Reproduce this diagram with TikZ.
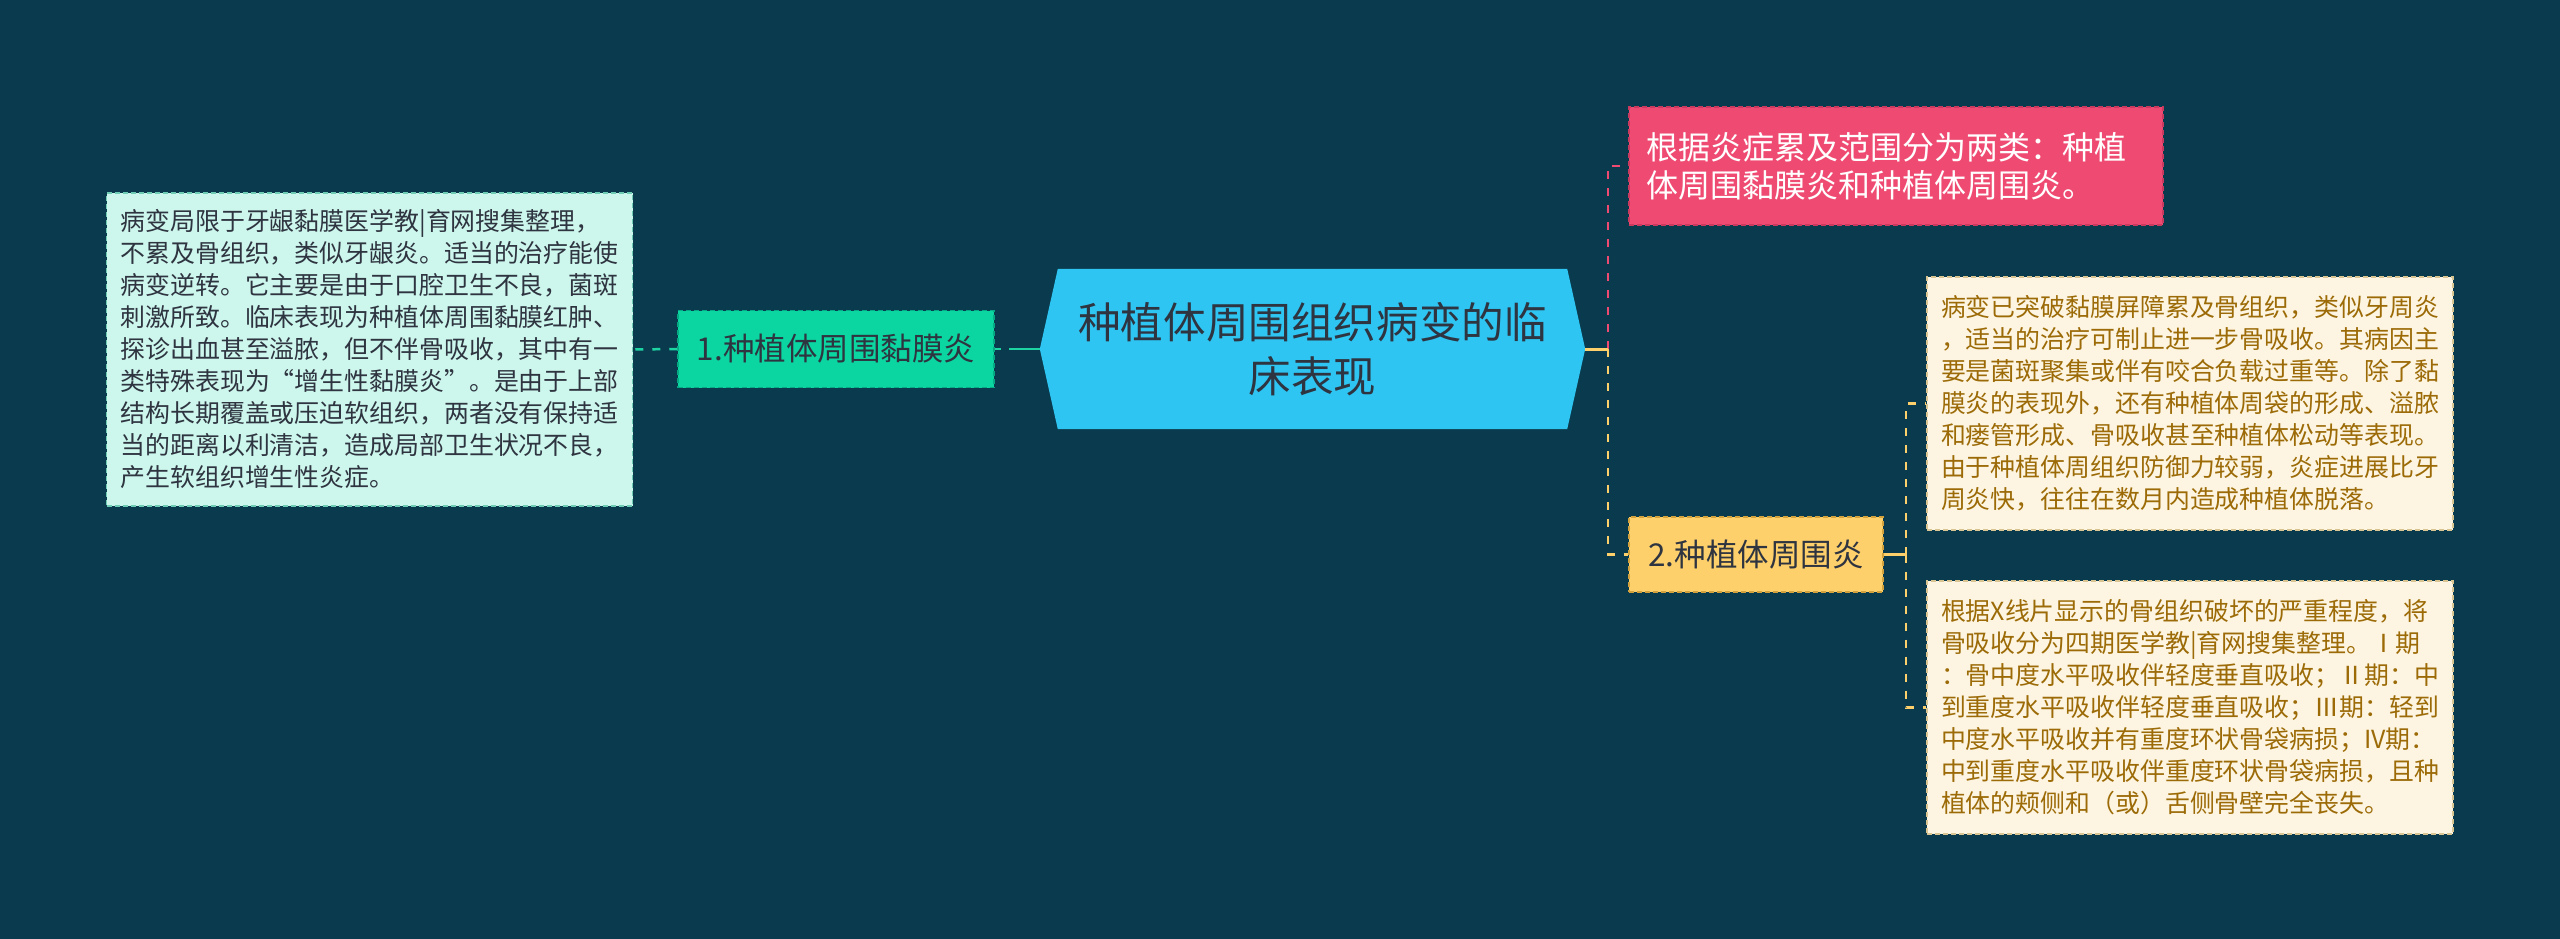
\documentclass[tikz,border=0pt]{standalone}
\usepackage{fontspec}
\setmainfont{Noto Sans CJK SC}
\usetikzlibrary{calc}
\pgfdeclarelayer{bg}
\pgfsetlayers{bg,main}
\definecolor{bgc}{HTML}{0A3A4D}
\definecolor{cyanc}{HTML}{2EC5F3}
\definecolor{greenc}{HTML}{0BD6A1}
\definecolor{greenb}{HTML}{07A884}
\definecolor{greenline}{HTML}{1ED3A2}
\definecolor{pinkc}{HTML}{EF4B72}
\definecolor{pinkb}{HTML}{C93A5E}
\definecolor{yellowc}{HTML}{FDD06B}
\definecolor{yellowb}{HTML}{D4A23C}
\definecolor{creamc}{HTML}{FDF5E1}
\definecolor{creamb}{HTML}{D8C592}
\definecolor{mintc}{HTML}{CDF6EC}
\definecolor{mintb}{HTML}{6FCDB5}
\definecolor{darktext}{HTML}{2E3440}
\definecolor{browntext}{HTML}{9C6B08}
\tikzset{
  boxborder/.style={dash pattern=on 5pt off 3pt, line width=1.5pt},
  topic/.style={boxborder, inner sep=0pt, align=center, text=darktext,
    font=\fontsize{31.5pt}{38pt}\selectfont},
  textbox/.style={boxborder, inner ysep=0pt, inner xsep=14pt, text width=498pt, align=left,
    font=\fontsize{24.9pt}{32pt}\selectfont},
  conn/.style={line width=2.5pt, dash pattern=on 8pt off 9pt},
}
\begin{document}
\begin{tikzpicture}[x=1pt,y=-1pt]
\useasboundingbox (0,0) rectangle (2560,939);
\begin{pgfonlayer}{bg}
\fill[bgc] (0,0) rectangle (2560,939);
\end{pgfonlayer}

% central
\node[inner sep=0pt, minimum width=545pt, minimum height=160pt, align=center,
  text=darktext, font=\fontsize{42.6pt}{54pt}\selectfont] (c) at (1312.5,349)
  {种植体周围组织病变的临\\床表现};
\begin{pgfonlayer}{bg}
\fill[cyanc] (c.west) -- ([xshift=18pt]c.north west) -- ([xshift=-18pt]c.north east)
  -- (c.east) -- ([xshift=-18pt]c.south east) -- ([xshift=18pt]c.south west) -- cycle;
\end{pgfonlayer}

% level 1
\node[topic, fill=greenc, draw=greenb, minimum width=316pt, minimum height=77pt] (n1) at (836,349)
  {1.种植体周围黏膜炎};
\node[topic, fill=pinkc, draw=pinkb, text=white, minimum width=534pt, minimum height=118pt,
  text width=500pt, align=left, font=\fontsize{32pt}{38pt}\selectfont] (p) at (1896,166)
  {根据炎症累及范围分为两类：种植\\体周围黏膜炎和种植体周围炎。};
\node[topic, fill=yellowc, draw=yellowb, minimum width=254pt, minimum height=75pt] (n2) at (1756,554.5)
  {2.种植体周围炎};

% leaves
\node[textbox, fill=mintc, draw=mintb, text=darktext, minimum height=313pt] (lb) at (369.5,349.5)
  {病变局限于牙龈黏膜医学教|育网搜集整理，\\
   不累及骨组织，类似牙龈炎。适当的治疗能使\\
   病变逆转。它主要是由于口腔卫生不良，菌斑\\
   刺激所致。临床表现为种植体周围黏膜红肿、\\
   探诊出血甚至溢脓，但不伴骨吸收，其中有一\\
   类特殊表现为“增生性黏膜炎”。是由于上部\\
   结构长期覆盖或压迫软组织，两者没有保持适\\
   当的距离以利清洁，造成局部卫生状况不良，\\
   产生软组织增生性炎症。};
\node[textbox, fill=creamc, draw=creamb, text=browntext, minimum height=253pt] (rb1) at (2190,403.5)
  {病变已突破黏膜屏障累及骨组织，类似牙周炎\\
   ，适当的治疗可制止进一步骨吸收。其病因主\\
   要是菌斑聚集或伴有咬合负载过重等。除了黏\\
   膜炎的表现外，还有种植体周袋的形成、溢脓\\
   和瘘管形成、骨吸收甚至种植体松动等表现。\\
   由于种植体周组织防御力较弱，炎症进展比牙\\
   周炎快，往往在数月内造成种植体脱落。};
\node[textbox, fill=creamc, draw=creamb, text=browntext, minimum height=253pt] (rb2) at (2190,707.5)
  {根据X线片显示的骨组织破坏的严重程度，将\\
   骨吸收分为四期医学教|育网搜集整理。Ⅰ期\\
   ：骨中度水平吸收伴轻度垂直吸收；Ⅱ期：中\\
   到重度水平吸收伴轻度垂直吸收；Ⅲ期：轻到\\
   中度水平吸收并有重度环状骨袋病损；IV期：\\
   中到重度水平吸收伴重度环状骨袋病损，且种\\
   植体的颊侧和（或）舌侧骨壁完全丧失。};

% connectors
\draw[greenline, line width=2.5pt, dash pattern=on 31pt off 8pt] (c.west) -- (n1.east);
\draw[greenline, conn] (n1.west) -- (lb.east);
\coordinate (cj) at ($(c.east)+(23,0)$);
\draw[pinkc, conn] (cj) |- (p.west);
\draw[yellowc, line width=3pt] (c.east) -- (cj);
\draw[yellowc, conn] (cj) |- (n2.west);
\coordinate (yj) at ($(n2.east)+(22,0)$);
\draw[yellowc, line width=2.5pt] (n2.east) -- (yj);
\draw[yellowc, conn] (yj) |- (rb1.west);
\draw[yellowc, conn] (yj) |- (rb2.west);
\end{tikzpicture}
\end{document}
